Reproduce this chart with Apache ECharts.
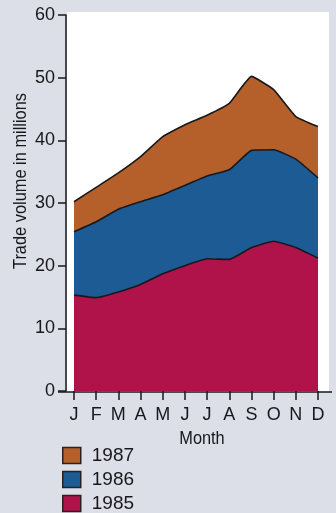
<!DOCTYPE html>
<html>
<head>
<meta charset="utf-8">
<script src="https://cdn.jsdelivr.net/npm/echarts@6/dist/echarts.min.js"></script>
<style>
html,body{margin:0;padding:0;background:#dcdee8;}
#c{width:336px;height:513px;}
</style>
</head>
<body>
<div id="c"></div>
<script>
// Data (millions), stacked: 1985 bottom, 1986 middle, 1987 top
var months = ['J','F','M','A','M','J','J','A','S','O','N','D'];
var v1985 = [15.3, 14.9, 15.8, 17.0, 18.7, 20.0, 21.1, 21.0, 22.9, 23.9, 22.9, 21.2];
var v1986 = [10.1, 12.1, 13.2, 13.2, 12.6, 12.8, 13.2, 14.3, 15.5, 14.6, 14.1, 12.8];
var v1987 = [4.8, 5.5, 5.8, 7.2, 9.3, 9.7, 9.7, 10.6, 11.8, 9.6, 6.8, 8.2];
var yTicks = {min: 0, max: 60, interval: 10};

var FONT = '"Liberation Sans", Arial, sans-serif';
var INK = '#18181c';
var G = {left: 74, right: 18, top: 15, bottom: 122};
var W = 336, H = 513;
var x0 = G.left, x1 = W - G.right, yTop = G.top, yBot = H - G.bottom;

var chart = echarts.init(document.getElementById('c'), null, {renderer: 'canvas'});

function mkSeries(name, data, color) {
  return {
    name: name, type: 'line', stack: 'total', data: data,
    symbol: 'none', smooth: 0.12,
    lineStyle: {color: INK, width: 1.6},
    itemStyle: {color: color, borderColor: '#2a2020', borderWidth: 1.5},
    areaStyle: {color: color, opacity: 1},
    z: 3
  };
}

chart.setOption({
  animation: false,
  backgroundColor: '#dcdee8',
  textStyle: {fontFamily: FONT},
  grid: {left: G.left, right: G.right, top: G.top, bottom: G.bottom, containLabel: false},
  graphic: [
    {type: 'rect', z: 0, silent: true,
     shape: {x: x0 - 7, y: yTop - 3, width: (x1 + 11) - (x0 - 7), height: yBot + 1 - (yTop - 3)},
     style: {fill: '#ffffff'}},
    {type: 'line', z: 10, silent: true,
     shape: {x1: x0 - 16, y1: yBot + 1, x2: x1 + 14, y2: yBot + 1},
     style: {stroke: INK, lineWidth: 1.5}},
    {type: 'text', z: 10, silent: true, x: 21, y: 181, rotation: Math.PI / 2, scaleX: 0.91,
     style: {text: 'Trade volume in millions', font: '18px ' + FONT, fill: INK,
             textAlign: 'center', textVerticalAlign: 'middle'}},
    {type: 'text', z: 10, silent: true, x: 202, y: 439, scaleX: 0.86,
     style: {text: 'Month', font: '19px ' + FONT, fill: INK,
             textAlign: 'center', textVerticalAlign: 'middle'}}
  ],
  legend: {
    orient: 'vertical', left: 62, top: 446, padding: 0, height: 100, width: 120,
    itemWidth: 18, itemHeight: 16, itemGap: 5,
    icon: 'rect',
    data: ['1987', '1986', '1985'],
    textStyle: {fontFamily: FONT, fontSize: 19, lineHeight: 16, color: INK, padding: [0, 0, 0, 6]},
    itemStyle: {borderColor: '#2a2020', borderWidth: 1.5}
  },
  xAxis: {
    type: 'category', data: months, boundaryGap: false,
    axisLine: {show: false},
    axisTick: {show: true, length: 9, lineStyle: {color: INK, width: 1.5}},
    axisLabel: {fontFamily: FONT, fontSize: 18, color: INK, margin: 15},
    splitLine: {show: false}
  },
  yAxis: {
    type: 'value', min: yTicks.min, max: yTicks.max, interval: yTicks.interval,
    offset: 8,
    axisLine: {show: true, lineStyle: {color: INK, width: 1.5}},
    axisTick: {show: true, length: 8, lineStyle: {color: INK, width: 1.5}},
    axisLabel: {fontFamily: FONT, fontSize: 18, color: INK, margin: 11},
    splitLine: {show: false}
  },
  series: [
    mkSeries('1985', v1985, '#b0124a'),
    mkSeries('1986', v1986, '#1d5b95'),
    mkSeries('1987', v1987, '#b5602a')
  ]
});
</script>
</body>
</html>
